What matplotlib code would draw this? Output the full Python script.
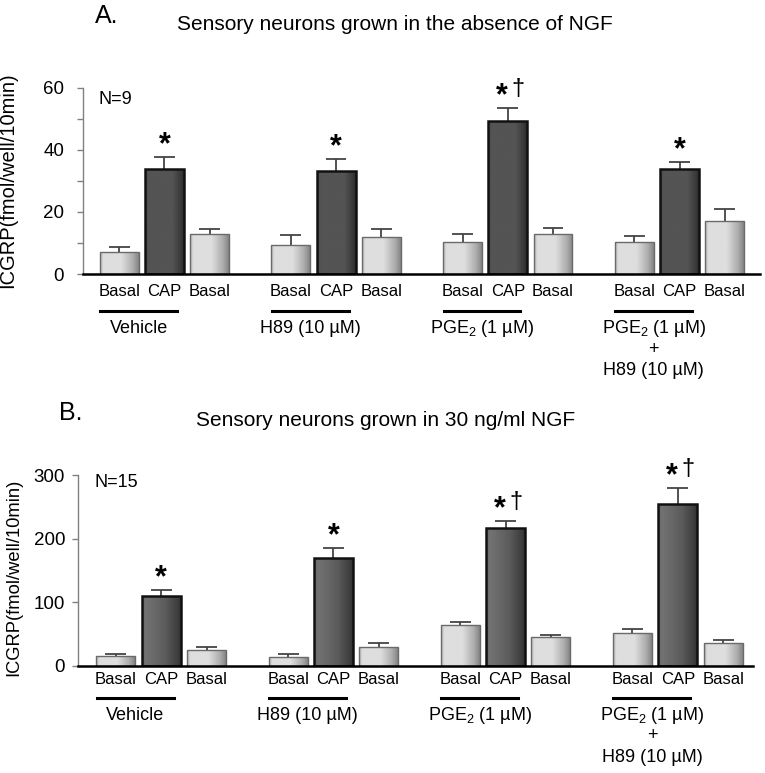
import numpy as np
import matplotlib
matplotlib.use('Agg')
import matplotlib.pyplot as plt

plt.rcParams['font.family'] = ['Liberation Sans', 'DejaVu Sans']
plt.rcParams['mathtext.fontset'] = 'custom'
plt.rcParams['mathtext.rm'] = 'Liberation Sans'

# data
groups = ['Vehicle', 'H89 (10 µM)', r'PGE$_\mathregular{2}$ (1 µM)',
          r'PGE$_\mathregular{2}$ (1 µM)' + '\n+\nH89 (10 µM)']
conds = ['Basal', 'CAP', 'Basal']

a_mean = [[7.2, 33.8, 12.9], [9.4, 33.3, 12.0], [10.3, 49.4, 12.8], [10.3, 34.0, 17.2]]
a_err = [[1.6, 4.0, 1.5], [3.2, 3.7, 2.4], [2.6, 4.0, 2.0], [2.0, 2.0, 3.7]]
a_marks = ['*', '*', '*†', '*']

b_mean = [[16, 109, 25], [14, 169, 30], [64, 216, 45], [51, 254, 36]]
b_err = [[3, 10, 4], [4, 16, 5], [5, 11, 4], [6, 25, 5]]
b_marks = ['*', '*', '*†', '*†']

basal_shade = ([0, 0.08, 0.55, 0.85, 1.0], [0.70, 0.87, 0.87, 0.68, 0.52])
cap_shade_a = ([0, 0.1, 0.7, 0.9, 1.0], [0.30, 0.33, 0.33, 0.24, 0.18])
cap_shade_b = ([0, 0.1, 0.6, 0.9, 1.0], [0.40, 0.45, 0.36, 0.25, 0.20])


def shade(ax, bar, stops, levels):
    prof = np.interp(np.linspace(0, 1, 80), stops, levels)
    img = np.tile(prof, (2, 1))
    x0, y0 = bar.get_x(), bar.get_y()
    w, h = bar.get_width(), bar.get_height()
    im = ax.imshow(img, cmap='gray', vmin=0, vmax=1, aspect='auto',
                   extent=[x0, x0 + w, y0, y0 + h], interpolation='bilinear', zorder=1)
    im.set_clip_path(bar)


def panel(ax, mean, err, marks, cap_shade, ymax, major, minor, xlim, offs, tickpad):
    mean = np.array(mean, dtype=float)
    err = np.array(err, dtype=float)
    pos = np.arange(3)[None, :] + 3.8 * np.arange(4)[:, None]
    for g in range(4):
        for i in range(3):
            x, m, e = pos[g, i], mean[g, i], err[g, i]
            if i == 1:
                b = ax.bar(x, m, 0.86, facecolor='none', edgecolor='#111111', lw=1.8, zorder=2)[0]
                shade(ax, b, *cap_shade)
            else:
                b = ax.bar(x, m, 0.86, facecolor='none', edgecolor='#6a6a6a', lw=1.0, zorder=2)[0]
                shade(ax, b, *basal_shade)
            ax.vlines(x, m, m + e, color='#444444', lw=1.3, zorder=0)
            ax.hlines(m + e, x - 0.23, x + 0.23, color='#444444', lw=1.3, zorder=0)
            ax.annotate(conds[i], xy=(x, 0), xycoords=('data', 'axes fraction'),
                        xytext=(0, -offs[0]), textcoords='offset pixels',
                        ha='center', va='center', fontsize=12)
        # significance marks
        top = mean[g, 1] + err[g, 1]
        x = pos[g, 1]
        if marks[g] == '*':
            ax.annotate('*', xy=(x, top), xytext=(0, 12), textcoords='offset pixels',
                        ha='center', va='center', fontsize=22, fontweight='bold',
                        annotation_clip=False)
        else:
            ax.annotate('*', xy=(x, top), xytext=(-6, 12), textcoords='offset pixels',
                        ha='center', va='center', fontsize=22, fontweight='bold',
                        annotation_clip=False)
            ax.annotate('†', xy=(x, top), xytext=(10, 19), textcoords='offset pixels',
                        ha='center', va='center', fontsize=17, annotation_clip=False)
        # underline and treatment label
        h = ax.bbox.height
        ax.plot([pos[g, 0] - 0.42, pos[g, 1] + 0.28], [-offs[1] / h] * 2, color='black',
                lw=2.2, transform=ax.get_xaxis_transform(), clip_on=False)
        xc = (pos[g, 0] - 0.42 + pos[g, 1] + 0.28) / 2
        for k, line in enumerate(groups[g].split('\n')):
            ax.annotate(line, xy=(xc, 0), xycoords=('data', 'axes fraction'),
                        xytext=(0, -offs[2] - 21 * k), textcoords='offset pixels',
                        ha='center', va='center', fontsize=13)

    ax.set_xlim(*xlim)
    ax.set_ylim(0, ymax)
    ax.set_yticks(major)
    ax.set_yticks(minor, minor=True)
    ax.set_xticks([])
    for s in ['top', 'right']:
        ax.spines[s].set_visible(False)
    ax.spines['left'].set_color('#808080')
    ax.spines['left'].set_linewidth(1.0)
    ax.spines['bottom'].set_color('black')
    ax.spines['bottom'].set_linewidth(1.8)
    ax.tick_params(axis='y', which='both', direction='out', length=4.5, width=1.0,
                   color='#808080', labelsize=13.5, pad=tickpad)


fig = plt.figure(figsize=(7.65, 7.73), dpi=100)
W, H = 765, 773

axa = fig.add_axes([83 / W, 1 - 274 / H, 677 / W, 186 / H])
panel(axa, a_mean, a_err, a_marks, cap_shade_a, 60, [0, 20, 40, 60], np.arange(0, 61, 10),
      (-0.8, 14.18), (17.7, 37, 54.3), 9)
axa.text((98 - 83) / 677, (274 - 100) / 186, 'N=9', transform=axa.transAxes, fontsize=13,
         ha='left', va='center')

axb = fig.add_axes([78.3 / W, 1 - 665.7 / H, 674.7 / W, 190.7 / H])
panel(axb, b_mean, b_err, b_marks, cap_shade_b, 300, [0, 100, 200, 300], [],
      (-0.83, 14.06), (14.3, 32.3, 49.3), 5)
axb.text((95 - 78.3) / 674.7, (665.7 - 482.7) / 190.7, 'N=15', transform=axb.transAxes,
         fontsize=13, ha='left', va='center')

fig.text(95 / W, 1 - 16 / H, 'A.', fontsize=18, ha='left', va='center')
fig.text(394.5 / W, 1 - 25 / H, 'Sensory neurons grown in the absence of NGF',
         fontsize=15, ha='center', va='center')
fig.text(59 / W, 1 - 413 / H, 'B.', fontsize=18, ha='left', va='center')
fig.text(386 / W, 1 - 420 / H, 'Sensory neurons grown in 30 ng/ml NGF',
         fontsize=15, ha='center', va='center')

fig.text(8 / W, 1 - 180 / H, 'ICGRP(fmol/well/10min)', rotation=90, fontsize=14.5,
         ha='center', va='center')
fig.text(14 / W, 1 - 577 / H, 'ICGRP(fmol/well/10min)', rotation=90, fontsize=13.2,
         ha='center', va='center')

fig.savefig('out.png', dpi=100)
